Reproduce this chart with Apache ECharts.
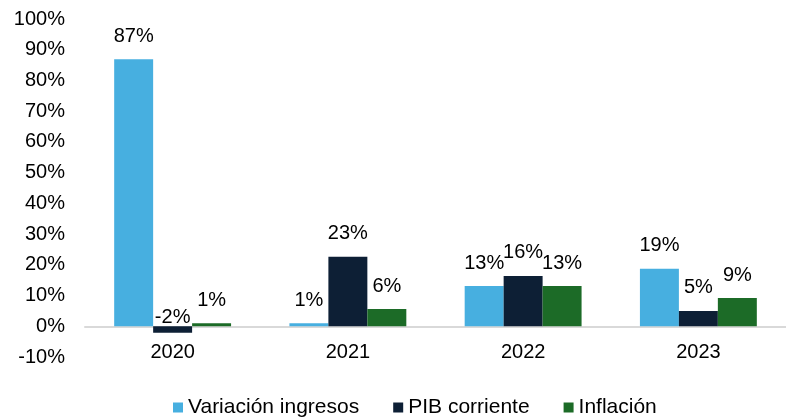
<!DOCTYPE html>
<html lang="es" style="height: 100%">
<head>
  <meta charset="utf-8">
</head>
<body style="height: 100%; margin: 0; background: #fff">
<div id="container" style="width: 786px; height: 418px"></div>

<script type="text/javascript" src="https://cdn.jsdelivr.net/npm/echarts@6/dist/echarts.min.js"></script>

<script type="text/javascript">
  var years = ['2020', '2021', '2022', '2023'];
  var ingresos = [86.9, 1.0, 13.1, 18.7];
  var pib = [-2.1, 22.6, 16.4, 5.0];
  var inflacion = [1.0, 5.6, 13.1, 9.2];

  var dom = document.getElementById('container');
  var myChart = echarts.init(dom, null, { renderer: 'canvas' });

  var font = 'Liberation Sans, Arial, sans-serif';

  function pct(p) {
    return Math.round(p.value) + '%';
  }

  // negative bars keep their label just above the zero line
  function withLabels(arr) {
    return arr.map(function (v) {
      if (v < 0) {
        return { value: v, label: { distance: -1 } };
      }
      return v;
    });
  }

  function bar(name, data, color) {
    return {
      name: name,
      type: 'bar',
      data: withLabels(data),
      itemStyle: { color: color },
      barGap: 0,
      barCategoryGap: '33.3%',
      label: {
        show: true,
        position: 'top',
        distance: 13,
        formatter: pct,
        color: '#000',
        fontFamily: font,
        fontSize: 20
      }
    };
  }

  var option = {
    animation: false,
    grid: { left: 85, right: -10, top: 19, bottom: 61 },
    legend: {
      top: 392,
      left: 168,
      itemWidth: 10,
      itemHeight: 10,
      itemGap: 34,
      icon: 'rect',
      textStyle: { color: '#000', fontFamily: font, fontSize: 21 },
      data: ['Variación ingresos', 'PIB corriente', 'Inflación']
    },
    xAxis: {
      type: 'category',
      data: years,
      axisTick: { show: false },
      axisLine: { onZero: true, lineStyle: { color: '#D9D9D9', width: 2 } },
      // labels sit under the zero line, not the grid bottom
      axisLabel: { margin: -15, color: '#000', fontFamily: font, fontSize: 20 }
    },
    yAxis: {
      type: 'value',
      min: -10,
      max: 100,
      interval: 10,
      splitLine: { show: false },
      axisLine: { show: false },
      axisTick: { show: false },
      axisLabel: {
        margin: 20,
        formatter: '{value}%',
        color: '#000',
        fontFamily: font,
        fontSize: 20
      }
    },
    series: [
      bar('Variación ingresos', ingresos, '#47AFE0'),
      bar('PIB corriente', pib, '#0D1F35'),
      bar('Inflación', inflacion, '#1C6B27')
    ]
  };

  myChart.setOption(option);
  window.addEventListener('resize', myChart.resize);
</script>
</body>
</html>
